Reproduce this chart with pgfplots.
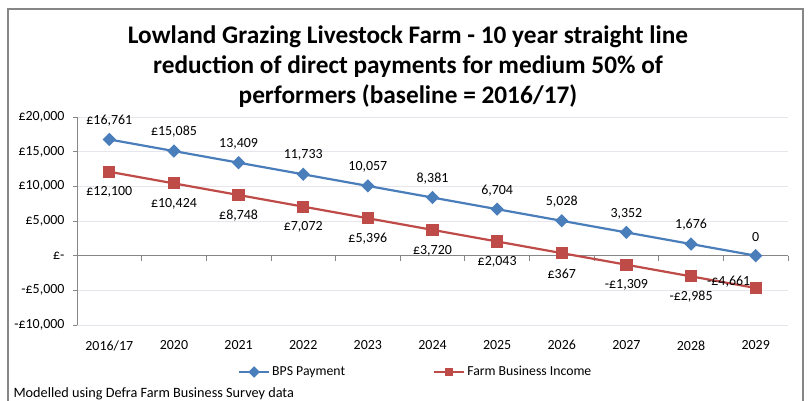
\documentclass[border=0pt]{standalone}
\usepackage{fontspec}
\setmainfont{Carlito}
\usepackage{pgfplots}
\pgfplotsset{compat=1.18}
\definecolor{bpsblue}{HTML}{4A7EBB}
\definecolor{fbired}{HTML}{BE4B48}
\definecolor{axgray}{HTML}{868686}
\definecolor{gridgray}{HTML}{E6E6EC}
\begin{document}
\begin{tikzpicture}[x=1bp,y=1bp]
\useasboundingbox (0,0) rectangle (808,400);
\draw[axgray, line width=1.3bp] (8,-5) -- (8,391) -- (803,391) -- (803,-5);
\node[anchor=base, font=\fontsize{25.4}{28}\selectfont\bfseries] at (408,357) {Lowland Grazing Livestock Farm - 10 year straight line};
\node[anchor=base, font=\fontsize{25.4}{28}\selectfont\bfseries] at (408,327) {reduction of direct payments for medium 50\% of};
\node[anchor=base, font=\fontsize{25.4}{28}\selectfont\bfseries] at (408,297) {performers (baseline = 2016/17)};
\node[anchor=west, font=\fontsize{14.3}{16}\selectfont] at (10,6) {Modelled using Defra Farm Business Survey data};
\begin{axis}[
  at={(77bp,75bp)}, anchor=south west,
  width=711bp, height=208bp, scale only axis,
  xmin=-0.5, xmax=10.5, ymin=-10000, ymax=20000,
  axis lines*=left,
  x axis line style={draw=none},
  y axis line style={draw=axgray, line width=0.8bp, -},
  xtick={0,1,2,3,4,5,6,7,8,9,10},
  xticklabels={2016/17,2020,2021,2022,2023,2024,2025,2026,2027,2028,2029},
  ytick={-10000,-5000,0,5000,10000,15000,20000},
  yticklabels={{-£10,000},{-£5,000},{£-},{£5,000},{£10,000},{£15,000},{£20,000}},
  scaled y ticks=false,
  /pgf/number format/assume math mode=true,
  ymajorgrids, grid style={draw=gridgray, line width=0.8bp},
  xtick style={draw=none},
  ytick style={draw=axgray, line width=0.8bp},
  tick align=outside, major tick length=4bp,
  tick label style={font=\fontsize{14}{16}\selectfont},
  xticklabel style={yshift=-8bp},
  yticklabel style={xshift=-5bp},
  clip=false,
  legend style={at={(0.222,-0.226)}, anchor=west, draw=none, fill=none,
    legend columns=2, font=\fontsize{13.8}{16}\selectfont,
    /tikz/every even column/.append style={column sep=86bp}},
  legend cell align=left,
  legend image code/.code={\draw[mark repeat=2,mark phase=2,#1,mark size=3bp] plot coordinates {(0bp,0bp) (15bp,0bp) (30bp,0bp)};},
]
\draw[axgray, line width=0.8bp] (axis cs:-0.5,0) -- (axis cs:10.5,0);
\pgfplotsinvokeforeach{-0.5,0.5,1.5,2.5,3.5,4.5,5.5,6.5,7.5,8.5,9.5,10.5}{
  \draw[axgray, line width=0.8bp] (axis cs:#1,0) -- ++(0bp,-5bp);
}
\addplot[color=bpsblue, line width=2.2bp, mark=square*, mark size=3.6bp,
  mark options={rotate=45, solid, fill=bpsblue},
  nodes near coords, point meta=explicit symbolic,
  every node near coord/.append style={anchor=center, yshift=19bp, text=black,
    font=\fontsize{14}{16}\selectfont}]
  table[x=x, y=y, meta=lab] {
x y lab
0 16761 £16,761
1 15085 £15,085
2 13409 13,409
3 11733 11,733
4 10057 10,057
5 8381 8,381
6 6704 6,704
7 5028 5,028
8 3352 3,352
9 1676 1,676
10 0 0
};
\addlegendentry{BPS Payment}
\addplot[color=fbired, line width=2.2bp, mark=square*, mark size=5bp,
  mark options={solid, fill=fbired},
  nodes near coords, point meta=explicit symbolic,
  every node near coord/.append style={anchor=center, yshift=-20.5bp, text=black,
    font=\fontsize{14}{16}\selectfont},
  coordinate style/.condition={\coordindex==10}{xshift=-27bp, yshift=26.5bp}]
  table[x=x, y=y, meta=lab] {
x y lab
0 12100 £12,100
1 10424 £10,424
2 8748 £8,748
3 7072 £7,072
4 5396 £5,396
5 3720 £3,720
6 2043 £2,043
7 367 £367
8 -1309 -£1,309
9 -2985 -£2,985
10 -4661 -£4,661
};
\addlegendentry{Farm Business Income}
\end{axis}
\end{tikzpicture}
\end{document}
